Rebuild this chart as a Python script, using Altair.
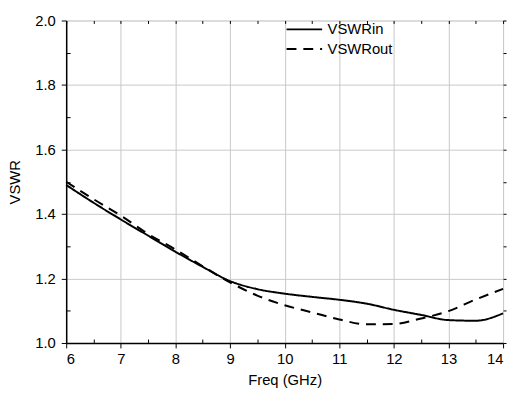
import altair as alt
import pandas as pd

freq = [6.0, 6.5, 7.0, 7.5, 8.0, 8.5, 9.0, 9.5, 10.0, 10.5, 11.0, 11.5, 12.0, 12.5, 13.0, 13.5, 14.0]
vswr_in = [1.49, 1.435, 1.383, 1.333, 1.283, 1.236, 1.192, 1.167, 1.153, 1.143, 1.134, 1.122, 1.103, 1.087, 1.071, 1.069, 1.092]
vswr_out = [1.50, 1.446, 1.395, 1.338, 1.29, 1.238, 1.188, 1.147, 1.117, 1.095, 1.073, 1.058, 1.059, 1.076, 1.099, 1.135, 1.168]
series = ["VSWRin", "VSWRout"]
x_major = [6, 7, 8, 9, 10, 11, 12, 13, 14]
x_minor = [6.5, 7.5, 8.5, 9.5, 10.5, 11.5, 12.5, 13.5]
y_major = [1.0, 1.2, 1.4, 1.6, 1.8, 2.0]
y_minor = [1.1, 1.3, 1.5, 1.7, 1.9]

rows = []
for f, a, b in zip(freq, vswr_in, vswr_out):
    rows.append({"freq": f, "vswr": a, "series": series[0]})
    rows.append({"freq": f, "vswr": b, "series": series[1]})
df = pd.DataFrame(rows)

FONT = "Liberation Sans"
xdom = [6, 14]
ydom = [1.0, 2.0]


def xs(axis):
    return alt.X("freq:Q", scale=alt.Scale(domain=xdom, nice=False, zero=False), axis=axis)


def ys(axis):
    return alt.Y("vswr:Q", scale=alt.Scale(domain=ydom, nice=False, zero=False), axis=axis)


main = alt.Chart(df).mark_line(strokeWidth=2, interpolate="monotone", color="black").encode(
    x=xs(alt.Axis(values=x_major, title="Freq (GHz)", orient="bottom", grid=True, gridColor="#c8c8c8",
                  gridWidth=1, tickSize=5, tickColor="black", domainColor="black", domainWidth=1.5,
                  labelFont=FONT, labelFontSize=15, labelColor="black", labelPadding=4,
                  titleFont=FONT, titleFontSize=15, titleFontWeight="normal", titleColor="black",
                  titlePadding=6, format="d")),
    y=ys(alt.Axis(values=y_major, title="VSWR", orient="left", grid=True, gridColor="#c8c8c8",
                  gridWidth=1, tickSize=5, tickColor="black", domainColor="black", domainWidth=1.5,
                  labelFont=FONT, labelFontSize=15, labelColor="black", labelPadding=6,
                  titleFont=FONT, titleFontSize=15, titleFontWeight="normal", titleColor="black",
                  titlePadding=12, format=".1f")),
    strokeDash=alt.StrokeDash("series:N", scale=alt.Scale(domain=series, range=[[1, 0], [10, 7]]),
                              legend=alt.Legend(title=None, orient="none", legendX=222, legendY=1,
                                                padding=0, clipHeight=16,
                                                symbolType="stroke", symbolSize=1300, symbolStrokeWidth=2,
                                                symbolStrokeColor="black", labelFont=FONT,
                                                labelFontSize=15, labelColor="black", rowPadding=4,
                                                labelOffset=4)),
)

inner = alt.Chart(df).mark_line(opacity=0).encode(
    x=xs(alt.Axis(values=x_minor, orient="bottom", offset=-4, tickSize=4, tickColor="black",
                  labels=False, domain=False, grid=False, title=None)),
    y=ys(alt.Axis(values=y_minor, orient="left", offset=-4, tickSize=4, tickColor="black",
                  labels=False, domain=False, grid=False, title=None)),
)

opposite = alt.Chart(df).mark_line(opacity=0).encode(
    x=xs(alt.Axis(values=x_major + x_minor, orient="top", offset=-3, tickSize=3, tickColor="black",
                  labels=False, domain=False, grid=False, title=None)),
    y=ys(alt.Axis(values=y_major + y_minor, orient="right", tickSize=3, tickColor="black",
                  labels=False, domain=False, grid=False, title=None)),
)

chart = alt.layer(main, inner, opposite).resolve_scale(
    x="independent", y="independent"
).resolve_axis(x="independent", y="independent").properties(
    width=443, height=327,
    autosize=alt.AutoSizeParams(type="none"),
    padding={"left": 59, "top": 10, "right": 6, "bottom": 46},
).configure_view(stroke="black", strokeWidth=1.5).configure(background="white")

chart.save("out.html", embed_options={"renderer": "svg", "actions": False})
